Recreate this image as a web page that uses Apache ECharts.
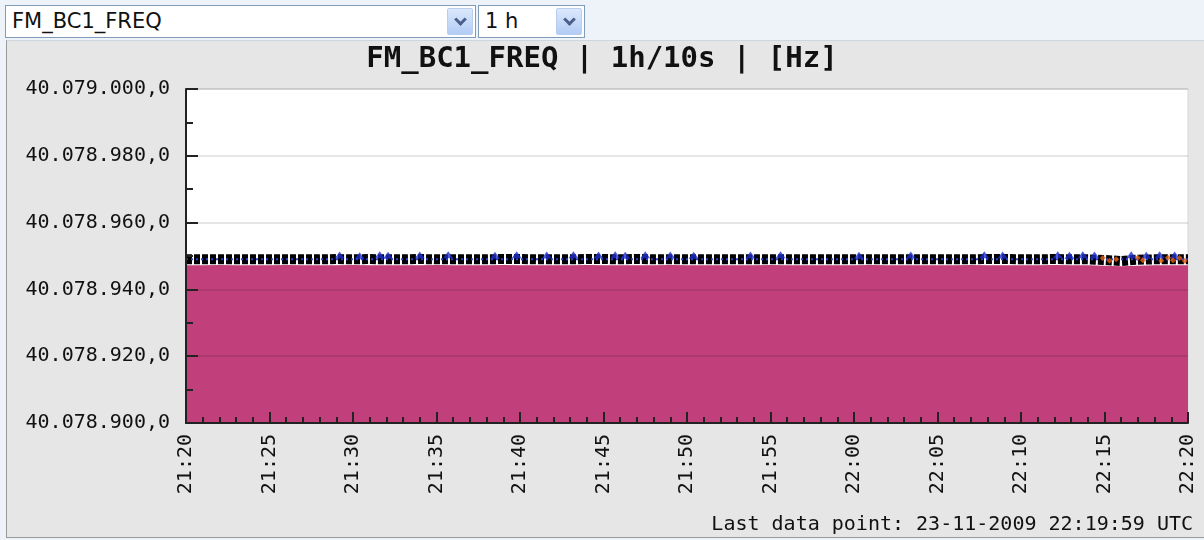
<!DOCTYPE html>
<html>
<head>
<meta charset="utf-8">
<script src="https://cdn.jsdelivr.net/npm/echarts@6/dist/echarts.min.js"></script>
<style>
  body { margin: 0; width: 1204px; height: 540px; position: relative; overflow: hidden; background: #eef3fa; }
  #panel { position: absolute; left: 6px; top: 40px; width: 1198px; height: 498px; background: #e6e6e6;
           border-left: 1px solid #9a9a9a; border-bottom: 1px solid #9a9a9a; border-top: 1px solid #cfd6e0; box-sizing: border-box; }
  #chart { position: absolute; left: 0; top: 0; width: 1204px; height: 540px; }
  .sel { position: absolute; top: 5px; height: 33px; border: 1px solid #7f9db9; background: #fff; box-sizing: border-box;
         font: 21px 'DejaVu Sans', sans-serif; line-height: 31px; padding-left: 6px; color: #111; z-index: 5; }
  .btn { position: absolute; right: 2px; top: 2px; width: 26px; height: 27px; border-radius: 2px;
         background: linear-gradient(#dce8fc, #b2ccf5); border: 1px solid #b9cdee; box-sizing: border-box; }
  .btn::after { content: ''; position: absolute; left: 8px; top: 6px; width: 6px; height: 6px;
                border-right: 3px solid #4a5f8a; border-bottom: 3px solid #4a5f8a; transform: rotate(45deg); }
</style>
</head>
<body>
<div id="panel"></div>
<div id="chart"></div>
<div class="sel" style="left:5px;width:471px">FM_BC1_FREQ<span class="btn"></span></div>
<div class="sel" style="left:478px;width:107px">1 h<span class="btn"></span></div>
<script>
// 21:20 .. 22:20, one sample per minute (minutes since midnight)
const startMinute = 1280;
const yTicks = [40078900, 40078920, 40078940, 40078960, 40078980, 40079000];

// filled area (average)
const fillValues = [
  40078947.2, 40078947.2, 40078947.3, 40078947.2, 40078947.2, 40078947.2, 40078947.3, 40078947.2, 40078947.2, 40078947.2,
  40078947.3, 40078947.2, 40078947.2, 40078947.2, 40078947.2, 40078947.3, 40078947.2, 40078947.2, 40078947.2, 40078947.3,
  40078947.2, 40078947.2, 40078947.2, 40078947.2, 40078947.3, 40078947.2, 40078947.2, 40078947.2, 40078947.2, 40078947.3,
  40078947.2, 40078947.2, 40078947.2, 40078947.2, 40078947.2, 40078947.3, 40078947.2, 40078947.2, 40078947.2, 40078947.2,
  40078947.2, 40078947.3, 40078947.2, 40078947.2, 40078947.2, 40078947.2, 40078947.2, 40078947.3, 40078947.2, 40078947.2,
  40078947.2, 40078947.2, 40078947.3, 40078947.2, 40078947.2, 40078947.1, 40078946.9, 40078947.1, 40078947.2, 40078947.2,
  40078947.2
];
// black samples
const blackValues = [
  40078949.0, 40078949.0, 40078949.0, 40078949.0, 40078949.0, 40078949.0, 40078949.0, 40078949.0, 40078949.0, 40078949.1,
  40078949.0, 40078949.1, 40078949.0, 40078949.0, 40078949.1, 40078949.0, 40078949.0, 40078949.0, 40078949.0, 40078949.1,
  40078949.1, 40078949.0, 40078949.0, 40078949.0, 40078949.1, 40078949.1, 40078949.0, 40078949.1, 40078949.0, 40078949.0,
  40078949.0, 40078949.0, 40078949.0, 40078949.0, 40078949.0, 40078949.0, 40078949.0, 40078949.0, 40078949.0, 40078949.0,
  40078949.0, 40078949.0, 40078949.0, 40078949.0, 40078949.0, 40078949.0, 40078949.0, 40078949.0, 40078949.1, 40078949.1,
  40078949.0, 40078949.0, 40078949.1, 40078949.0, 40078949.0, 40078948.8, 40078948.5, 40078948.9, 40078949.0, 40078949.0,
  40078949.0
];
// blue samples: baseline and the spikes that stick out above the black row
const blueValues = [
  40078949.0, 40078949.0, 40078949.0, 40078949.0, 40078949.0, 40078949.0, 40078949.0, 40078949.0, 40078949.0, 40078949.0,
  40078949.0, 40078949.0, 40078949.0, 40078949.0, 40078949.0, 40078949.0, 40078949.0, 40078949.0, 40078949.0, 40078949.0,
  40078949.0, 40078949.0, 40078949.0, 40078949.0, 40078949.0, 40078949.0, 40078949.0, 40078949.0, 40078949.0, 40078949.0,
  40078949.0, 40078949.0, 40078949.0, 40078949.0, 40078949.0, 40078949.0, 40078949.0, 40078949.0, 40078949.0, 40078949.0,
  40078949.0, 40078949.0, 40078949.0, 40078949.0, 40078949.0, 40078949.0, 40078949.0, 40078949.0, 40078949.0, 40078949.0,
  40078949.0, 40078949.0, 40078949.0, 40078949.0, 40078949.0, 40078949.0, 40078949.0, 40078949.0, 40078949.0, 40078949.0,
  40078949.0
];
const blueSpikes = [
  [1289.2, 40078950.3], [1290.4, 40078950.1], [1291.6, 40078950.4], [1292.1, 40078950.2], [1294.0, 40078950.3],
  [1295.7, 40078950.4], [1298.5, 40078950.2], [1299.8, 40078950.4], [1301.6, 40078950.3], [1303.2, 40078950.4],
  [1304.7, 40078950.3], [1305.7, 40078950.4], [1306.3, 40078950.2], [1307.5, 40078950.4], [1309.0, 40078950.3],
  [1310.4, 40078950.2], [1313.8, 40078950.3], [1315.6, 40078950.4], [1320.3, 40078950.2], [1323.4, 40078950.3],
  [1327.8, 40078950.4], [1328.9, 40078950.3], [1332.2, 40078950.4], [1332.9, 40078950.2], [1333.7, 40078950.4],
  [1334.4, 40078950.3], [1336.6, 40078950.4], [1337.5, 40078950.2], [1338.3, 40078950.4], [1339.2, 40078950.3]
];
// orange samples near the end of the hour
const orangePoints = [
  [1334.9, 40078949.4], [1335.3, 40078948.6], [1335.7, 40078949.0], [1337.0, 40078949.5], [1337.3, 40078948.7],
  [1338.4, 40078948.6], [1338.8, 40078949.5], [1339.1, 40078948.7], [1339.5, 40078949.4], [1339.8, 40078948.6]
];

const mono = "'DejaVu Sans Mono', monospace";
const pts = v => v.map((y, i) => [startMinute + i, y]);

function fmtY(v) {
  const p = v.toFixed(1).split('.');
  return p[0].replace(/\B(?=(\d{3})+(?!\d))/g, '.') + ',' + p[1];
}
function fmtX(v) {
  const h = Math.floor(v / 60), m = v % 60;
  return h + ':' + (m < 10 ? '0' : '') + m;
}

const myChart = echarts.init(document.getElementById('chart'));
const option = {
  animation: false,
  backgroundColor: 'transparent',
  title: [
    { text: 'FM_BC1_FREQ | 1h/10s | [Hz]', left: 'center', top: 40,
      textStyle: { fontFamily: mono, fontSize: 29, fontWeight: 'bold', color: '#111' } },
    { text: 'Last data point: 23-11-2009 22:19:59 UTC', right: 6, bottom: 0,
      textStyle: { fontFamily: mono, fontSize: 20, fontWeight: 'normal', color: '#111' } }
  ],
  grid: { left: 186, right: 16, top: 89, bottom: 117, show: true, backgroundColor: '#fff', borderColor: '#d8d8d8', borderWidth: 1 },
  xAxis: {
    type: 'value', min: startMinute, max: startMinute + 60, interval: 5, z: 5,
    axisLine: { lineStyle: { color: '#222', width: 2 } },
    axisTick: { inside: true, length: 11, lineStyle: { color: '#222', width: 2 } },
    minorTick: { show: true, splitNumber: 5, length: 6, lineStyle: { color: '#222', width: 2 } },
    splitLine: { show: false },
    axisLabel: { rotate: 90, margin: 11, formatter: fmtX, fontFamily: mono, fontSize: 20, color: '#111' }
  },
  yAxis: {
    type: 'value', min: yTicks[0], max: yTicks[yTicks.length - 1], interval: 20, z: 5,
    axisLine: { show: true, lineStyle: { color: '#222', width: 2 } },
    axisTick: { show: true, inside: true, length: 12, lineStyle: { color: '#222', width: 2 } },
    minorTick: { show: true, splitNumber: 2, length: 7, lineStyle: { color: '#222', width: 2 } },
    splitLine: { lineStyle: { color: 'rgba(0,0,0,0.1)', width: 2 } },
    axisLabel: { margin: 16, formatter: fmtY, fontFamily: mono, fontSize: 20, color: '#111' }
  },
  series: [
    { type: 'line', data: pts(fillValues), symbol: 'none', lineStyle: { width: 0 },
      areaStyle: { color: '#c1407b', opacity: 1 }, z: 1 },
    { type: 'line', data: pts(blackValues), symbol: 'none', z: 2,
      lineStyle: { color: '#000', width: 10, type: [6, 2] } },
    { type: 'line', data: pts(blueValues), symbol: 'none', z: 3,
      lineStyle: { color: '#2a3fd0', width: 2, type: [2, 3] } },
    { type: 'scatter', data: blueSpikes, symbol: 'triangle', symbolSize: [10, 7], z: 3,
      itemStyle: { color: '#1f2fd0' } },
    { type: 'scatter', data: orangePoints, symbol: 'diamond', symbolSize: 6, z: 4,
      itemStyle: { color: '#e06010' } }
  ]
};
myChart.setOption(option);
</script>
</body>
</html>
